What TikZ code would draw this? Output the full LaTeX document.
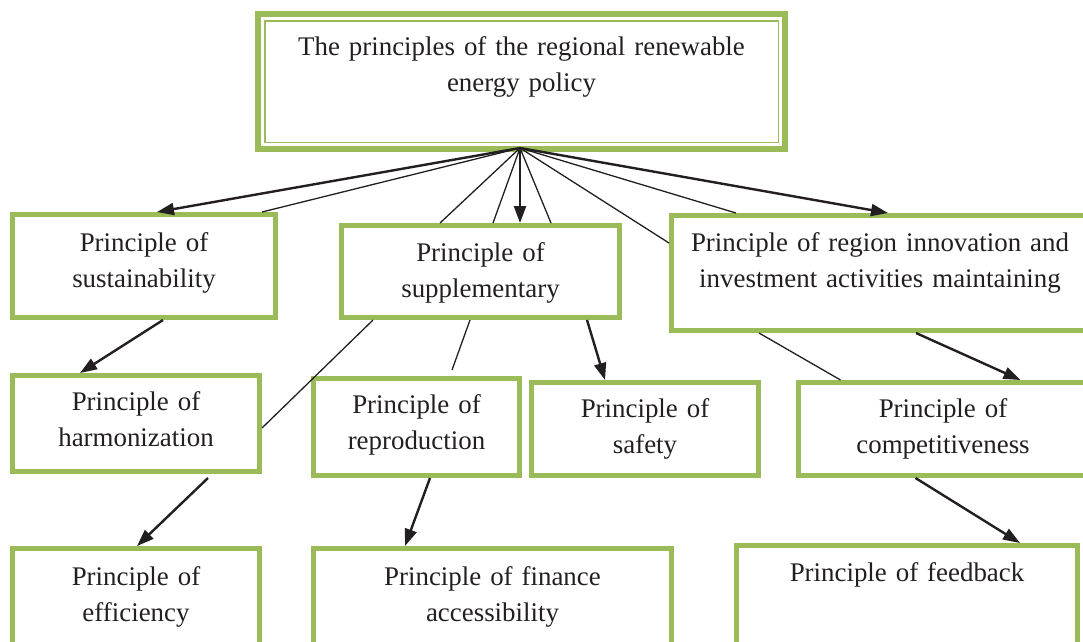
\documentclass[tikz,border=0pt]{standalone}
\usepackage{fontspec}
\setmainfont{Liberation Serif}
\usetikzlibrary{arrows.meta,positioning,calc}
\tikzset{
  >=Triangle,
  every node/.append style={font=\fontsize{26.9}{36}\selectfont},
}

\begin{document}
\begin{tikzpicture}[
    x=1pt, y=-1pt,
    box/.style={
        rectangle,
        draw=leafgreen,
        line width=5pt,
        align=center,
        inner sep=0pt,
        text=inkblack
    },
    arrow/.style={
        -{Triangle[length=17pt,width=12pt]},
        line width=2.4pt,
        draw=inkblack
    },
    link/.style={
        line width=1.3pt,
        draw=inkblack
    }
]
% Color definitions
\definecolor{leafgreen}{RGB}{155,187,89}
\definecolor{inkblack}{RGB}{35,31,32}

\useasboundingbox (0,0) rectangle (1083,641);

% Nodes
\node[box, line width=6pt, text width=527pt, minimum height=135pt, text depth=70pt] (policy) at (521.5,81.5) {The principles of the regional renewable\\energy policy};
\draw[leafgreen, line width=1.5pt] ([shift={(9.75,9.75)}]policy.north west) rectangle ([shift={(-9.75,-9.75)}]policy.south east);

\node[box, text width=263pt, minimum height=103pt, text depth=47pt] (sust) at (144,266) {Principle of\\sustainability};
\node[box, text width=278pt, minimum height=92pt, text depth=38pt] (supp) at (480.5,271.5) {Principle of\\supplementary};
\node[box, text width=417pt, minimum height=115pt, text depth=61pt] (innov) at (880,273) {Principle of region innovation and\\investment activities maintaining};

\node[box, text width=247pt, minimum height=96pt, text depth=44pt] (harm) at (136,423.5) {Principle of\\harmonization};
\node[box, text width=206pt, minimum height=97pt, text depth=45pt] (repro) at (416.5,427) {Principle of\\reproduction};
\node[box, text width=227pt, minimum height=93pt, text depth=41pt] (safety) at (645,429) {Principle of\\safety};
\node[box, text width=290pt, minimum height=93pt, text depth=41pt] (compet) at (943,429) {Principle of\\competitiveness};

\node[box, text width=247pt, minimum height=99pt, text depth=43pt] (effic) at (136,598) {Principle of\\efficiency};
\node[box, text width=358pt, minimum height=99pt, text depth=43pt] (finance) at (492.5,598) {Principle of finance\\accessibility};
\node[box, text width=341pt, minimum height=102pt, text depth=48pt] (feedback) at (907,596.5) {Principle of feedback};

% Connectors from the main principle
\coordinate (hub) at ($(policy.south)+(-1.5,-4)$);
\draw[arrow] (hub) -- ($(sust.north west)+(147,0)$);
\draw[link] (hub) -- ($(sust.north west)+(252,0)$);
\draw[link] (hub) -- ($(supp.north west)+(101,0)$);
\draw[link] (hub) -- ($(supp.north west)+(154,0)$);
\draw[arrow] (hub) -- ($(supp.north west)+(181,0)$);
\draw[link] (hub) -- ($(supp.north west)+(212,0)$);
\draw[link] (hub) -- ($(innov.north west)+(0,30)$);
\draw[link] (hub) -- ($(innov.north west)+(67,0)$);
\draw[arrow] (hub) -- ($(innov.north west)+(219,0)$);

% Connectors between principles
\coordinate (reprotip) at (452,370);
\draw[arrow] ($(sust.south west)+(153,0)$) -- ($(harm.north west)+(70,0)$);
\draw[link] ($(supp.south west)+(34,0)$) -- ($(harm.north east)+(0,55)$);
\draw[link] ($(supp.south west)+(131,0)$) -- (reprotip);
\draw[arrow] ($(supp.south west)+(248,0)$) -- ($(safety.north west)+(76,0)$);
\draw[link] ($(innov.south west)+(90,0)$) -- ($(compet.north west)+(45,0)$);
\draw[arrow] ($(innov.south west)+(247,0)$) -- ($(compet.north west)+(225,0)$);
\draw[arrow] ($(harm.south west)+(198,4)$) -- ($(effic.north west)+(127,0)$);
\draw[arrow] ($(repro.south west)+(119,0)$) -- ($(finance.north west)+(94,0)$);
\draw[arrow] ($(compet.south west)+(120,0)$) -- ($(feedback.north west)+(286,0)$);

\end{tikzpicture}
\end{document}
